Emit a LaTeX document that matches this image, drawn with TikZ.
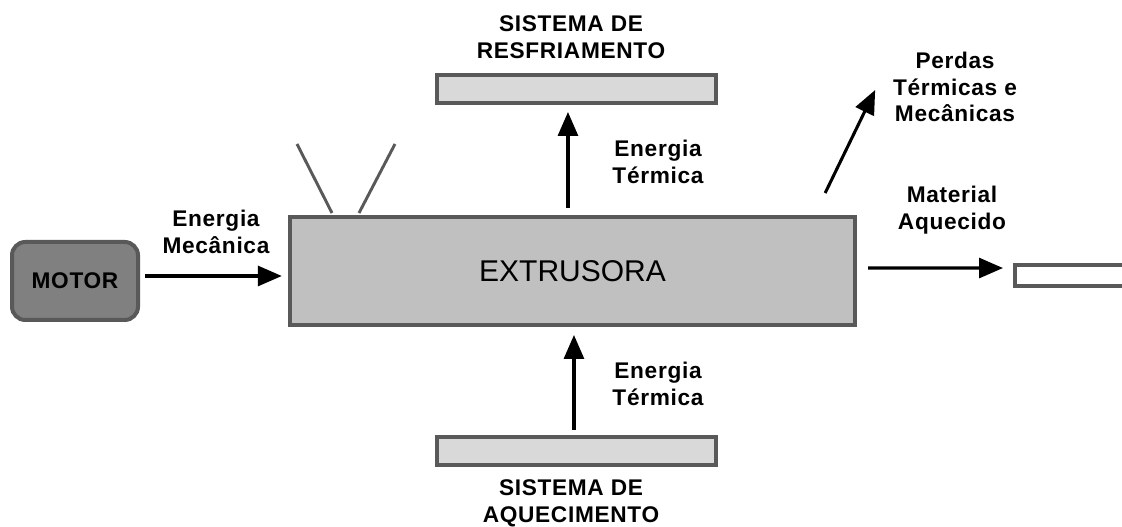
\documentclass[tikz,border=0pt]{standalone}
\usepackage{fontspec}
\setmainfont{Liberation Sans}
\newfontfamily\lblfont{Liberation Sans}[LetterSpace=3]
\usepackage{tikz}
\usetikzlibrary{arrows.meta}

\definecolor{borda}{HTML}{595959}
\definecolor{motorcor}{HTML}{808080}
\definecolor{extrcor}{HTML}{C0C0C0}
\definecolor{barcor}{HTML}{D9D9D9}

\tikzset{
    caixa/.style={rectangle, draw=borda, line width=3pt, inner sep=0pt},
    barra/.style={caixa, fill=barcor, minimum width=209pt, minimum height=21pt},
    rotulo/.style={align=center, font=\lblfont\bfseries\fontsize{17}{20}\selectfont},
    seta/.style={-{Triangle[length=18pt,width=15pt]}, line width=2.3pt},
    funil/.style={borda, line width=2.2pt}
}

\begin{document}
\begin{tikzpicture}[x=0.75pt, y=-0.75pt]
    \useasboundingbox (0,0) rectangle (1122,527);

    % blocos
    \node (motor) [caixa, fill=motorcor, rounded corners=10pt,
        minimum width=94.5pt, minimum height=58.5pt, rotulo] at (75,281) {MOTOR};
    \node (extr) [caixa, fill=extrcor, minimum width=424pt, minimum height=81pt,
        font=\fontsize{22.5}{26}\selectfont] at (572.5,271) {EXTRUSORA};
    \node (resf) [barra] at (576.5,89) {};
    \node (aquec) [barra] at (576.5,451.5) {};
    \node (saida) [caixa, fill=white, minimum width=97.5pt, minimum height=16pt] at (1080,275.5) {};

    % funil
    \draw[funil] (297,144) -- (332,213);
    \draw[funil] (395,144) -- (359,213);

    % textos
    \node (tresf) [rotulo] at (571,37) {SISTEMA DE\\RESFRIAMENTO};
    \node (taquec) [rotulo] at (571,503) {SISTEMA DE\\AQUECIMENTO};
    \node (emec) [rotulo] at (216,232) {Energia\\Mecânica};
    \node (eter1) [rotulo] at (658,162) {Energia\\Térmica};
    \node (eter2) [rotulo] at (658,384) {Energia\\Térmica};
    \node (perdas) [rotulo] at (955,87) {Perdas\\Térmicas e\\Mecânicas};
    \node (mat) [rotulo] at (952,210) {Material\\Aquecido};

    % setas
    \draw[seta] ([yshift=3.75pt]motor.east) ++(5,0) -- ([yshift=-3.75pt,xshift=-4.5pt]extr.west);
    \draw[seta] ([xshift=-3.4pt,yshift=5.25pt]extr.north) -- ([xshift=-6.4pt,yshift=-5.25pt]resf.south);
    \draw[seta] ([xshift=-1.9pt,yshift=3.75pt]aquec.north) -- ([xshift=1.1pt,yshift=-6pt]extr.south);
    \draw[seta] (extr.north east) ++(-32,-22) coordinate (p0) -- ++(50,-103) coordinate (p1);
    \draw[seta] ([xshift=8.25pt,yshift=2.25pt]extr.east) -- ([xshift=-7.5pt,yshift=5.6pt]saida.west);

\end{tikzpicture}
\end{document}
